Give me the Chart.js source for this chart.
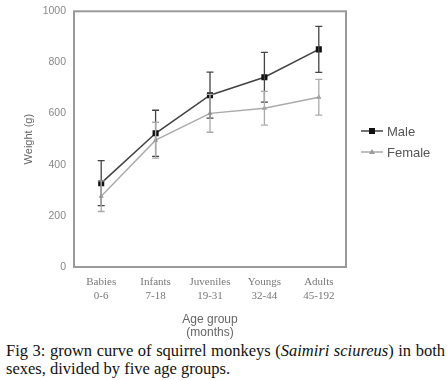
<!DOCTYPE html>
<html>
<head>
<meta charset="utf-8">
<script src="https://cdn.jsdelivr.net/npm/chart.js@4"></script>
<style>
  html, body { margin: 0; padding: 0; background: #fff; }
  #wrap { position: relative; width: 447px; height: 380px; overflow: hidden; }
  #c { position: absolute; left: 0; top: 0; }
  #cap { position: absolute; left: 6px; top: 342px; width: 439px; font-family: "Liberation Serif", "Times New Roman", serif; font-size: 16.5px; line-height: 18px; color: #111; white-space: nowrap; }
  #cap .l1 { text-align: justify; text-align-last: justify; }
</style>
</head>
<body>
<div id="wrap">
  <canvas id="c" width="447" height="340"></canvas>
  <div id="cap"><div class="l1">Fig 3: grown curve of squirrel monkeys (<i>Saimiri sciureus</i>) in both</div><div>sexes, divided by five age groups.</div></div>
</div>
<script>
const categories = ['Babies', 'Infants', 'Juveniles', 'Youngs', 'Adults'];
const ageRanges = ['0-6', '7-18', '19-31', '32-44', '45-192'];
const maleMean = [328, 523, 672, 742, 851];
const maleSD = [88, 90, 90, 97, 90];
const femaleMean = [277, 496, 601, 621, 664];
const femaleSD = [60, 70, 74, 66, 70];
const yTicks = [0, 200, 400, 600, 800, 1000];
const seriesNames = ['Male', 'Female'];

const labels = categories.map((c, i) => [c, ageRanges[i]]);

const errorBars = {
  id: 'errorBars',
  afterDatasetsDraw(chart) {
    const ctx = chart.ctx;
    const y = chart.scales.y;
    chart.data.datasets.forEach((ds, di) => {
      const meta = chart.getDatasetMeta(di);
      ctx.save();
      ctx.strokeStyle = ds.errColor;
      ctx.lineWidth = 1.3;
      meta.data.forEach((pt, i) => {
        const v = ds.data[i], e = ds.sd[i];
        const yt = y.getPixelForValue(v + e), yb = y.getPixelForValue(v - e);
        ctx.beginPath();
        ctx.moveTo(pt.x, yt); ctx.lineTo(pt.x, yb);
        ctx.moveTo(pt.x - 3.5, yt); ctx.lineTo(pt.x + 3.5, yt);
        ctx.moveTo(pt.x - 3.5, yb); ctx.lineTo(pt.x + 3.5, yb);
        ctx.stroke();
      });
      ctx.restore();
    });
  }
};

const boxAndLegend = {
  id: 'boxAndLegend',
  afterDraw(chart) {
    const ctx = chart.ctx;
    const a = chart.chartArea;
    ctx.save();
    ctx.strokeStyle = '#9a9a9a';
    ctx.lineWidth = 2;
    ctx.strokeRect(a.left, a.top, a.right - a.left, a.bottom - a.top);
    const items = chart.data.datasets;
    const lx = a.right + 15;
    const ly0 = 131;
    items.forEach((ds, i) => {
      const ly = ly0 + i * 21;
      ctx.strokeStyle = ds.borderColor;
      ctx.lineWidth = 1.5;
      ctx.beginPath(); ctx.moveTo(lx, ly); ctx.lineTo(lx + 22, ly); ctx.stroke();
      ctx.fillStyle = ds.pointBackgroundColor;
      if (ds.pointStyle === 'rect') {
        ctx.fillRect(lx + 8, ly - 3, 6, 6);
      } else {
        ctx.beginPath();
        ctx.moveTo(lx + 11, ly - 3); ctx.lineTo(lx + 14, ly + 2); ctx.lineTo(lx + 8, ly + 2); ctx.closePath(); ctx.fill();
      }
      ctx.fillStyle = '#555';
      ctx.font = '13px "Liberation Sans", Arial, sans-serif';
      ctx.textBaseline = 'middle';
      ctx.fillText(ds.label, lx + 26, ly + 1);
    });
    ctx.restore();
  }
};

new Chart(document.getElementById('c'), {
  type: 'line',
  data: {
    labels: labels,
    datasets: [
      {
        label: seriesNames[0], data: maleMean, sd: maleSD,
        borderColor: '#444', borderWidth: 1.6, errColor: '#444',
        pointStyle: 'rect', pointRadius: 4.3, pointBackgroundColor: '#111', pointBorderColor: '#111', pointBorderWidth: 0
      },
      {
        label: seriesNames[1], data: femaleMean, sd: femaleSD,
        borderColor: '#aaa', borderWidth: 1.4, errColor: '#aaa',
        pointStyle: 'triangle', pointRadius: 3, pointBackgroundColor: '#999', pointBorderColor: '#999', pointBorderWidth: 0
      }
    ]
  },
  options: {
    responsive: false,
    animation: false,
    events: [],
    layout: { padding: { top: 11, right: 101, left: 0, bottom: 0 } },
    plugins: { legend: { display: false }, tooltip: { enabled: false } },
    scales: {
      x: {
        offset: true,
        grid: { display: false, drawTicks: false },
        border: { display: false },
        ticks: { color: '#777', font: { family: '"Liberation Serif", "Times New Roman", serif', size: 11, lineHeight: 1.2 }, padding: 9, maxRotation: 0, autoSkip: false },
        title: { display: true, text: ['Age group', '(months)'], color: '#666', font: { family: '"Liberation Sans", Arial, sans-serif', size: 12, lineHeight: 1.15 }, padding: { top: 8, bottom: 0 } },
        afterFit(s) { s.height = 73; }
      },
      y: {
        min: 0, max: 1000,
        afterBuildTicks(s) { s.ticks = yTicks.map(v => ({ value: v })); },
        grid: { display: false, drawTicks: true, tickLength: 3, tickColor: '#999' },
        border: { display: false },
        ticks: { color: '#888', font: { family: '"Liberation Sans", Arial, sans-serif', size: 10.5 }, padding: 5, callback: v => String(v) },
        title: { display: true, text: 'Weight (g)', color: '#666', font: { family: '"Liberation Sans", Arial, sans-serif', size: 11 }, padding: { top: 22, bottom: 0 } },
        afterFit(s) { s.width = 74; }
      }
    }
  },
  plugins: [errorBars, boxAndLegend]
});
</script>
</body>
</html>
